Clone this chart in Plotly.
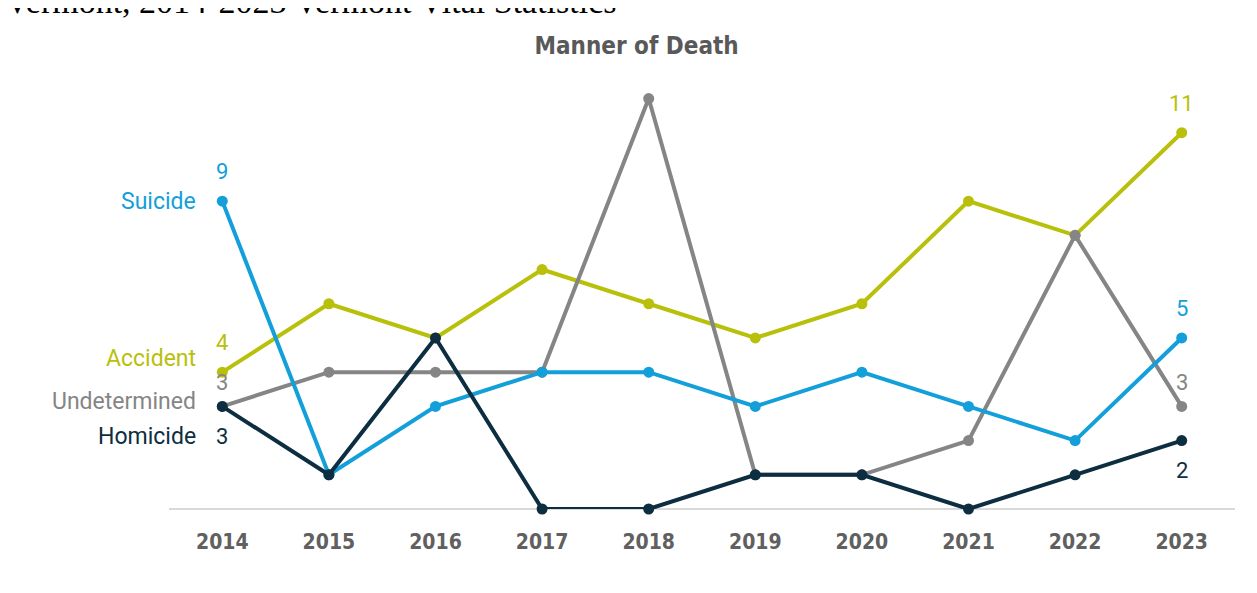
import plotly.graph_objects as go

years = [2014, 2015, 2016, 2017, 2018, 2019, 2020, 2021, 2022, 2023]
suicide = [9, 1, 3, 4, 4, 3, 4, 3, 2, 5]
accident = [4, 6, 5, 7, 6, 5, 6, 9, 8, 11]
undetermined = [3, 4, 4, 4, 12, 1, 1, 2, 8, 3]
homicide = [3, 1, 5, 0, 0, 1, 1, 0, 1, 2]

series = [
    ("Accident", accident, "#B9C00B"),
    ("Undetermined", undetermined, "#858585"),
    ("Suicide", suicide, "#129FDA"),
    ("Homicide", homicide, "#0D2E40"),
]

fig = go.Figure()
for name, vals, col in series:
    fig.add_trace(go.Scatter(
        x=years, y=vals, mode="lines+markers", name=name,
        line=dict(color=col, width=4),
        marker=dict(color=col, size=11),
        cliponaxis=False, showlegend=False,
    ))

colors = {n: c for n, _, c in series}
data = {n: v for n, v, _ in series}
lab_font = "Roboto, Arial, sans-serif"
narrow = "Liberation Sans Narrow, DejaVu Sans Condensed, Arial Narrow, sans-serif"
anns = []
name_shift = {"Suicide": 0, "Accident": 14, "Undetermined": 5, "Homicide": -30}
for n in ["Suicide", "Accident", "Undetermined", "Homicide"]:
    anns.append(dict(x=years[0], y=data[n][0], xref="x", yref="y", text=n,
                     showarrow=False, xanchor="right", xshift=-24, yshift=name_shift[n],
                     font=dict(family=lab_font, size=23, color=colors[n])))
start_shift = {"Suicide": 30, "Accident": 30, "Undetermined": 24, "Homicide": -30}
for n in ["Suicide", "Accident", "Undetermined", "Homicide"]:
    anns.append(dict(x=years[0], y=data[n][0], xref="x", yref="y", text=str(data[n][0]),
                     showarrow=False, yshift=start_shift[n],
                     font=dict(family=lab_font, size=22, color=colors[n])))
end_shift = {"Suicide": 29, "Accident": 29, "Undetermined": 24, "Homicide": -30}
for n in ["Suicide", "Accident", "Undetermined", "Homicide"]:
    anns.append(dict(x=years[-1], y=data[n][-1], xref="x", yref="y", text=str(data[n][-1]),
                     showarrow=False, yshift=end_shift[n],
                     font=dict(family=lab_font, size=22, color=colors[n])))
anns.append(dict(x=0, y=1, xref="paper", yref="paper", xanchor="left", yanchor="bottom",
                 xshift=-166, yshift=56,
                 text="Vermont, 2014-2023 Vermont Vital Statistics", showarrow=False,
                 font=dict(family="Liberation Serif, Times New Roman, serif", size=34, color="#000000")))

fig.update_layout(
    width=1246, height=577,
    paper_bgcolor="white", plot_bgcolor="white",
    margin=dict(l=161, r=19, t=70, b=76),
    title=dict(text="<b>Manner of Death</b>", x=0.5045, xanchor="center", y=0.935, yanchor="middle",
               font=dict(family=narrow, size=24, color="#595959")),
    xaxis=dict(range=[2013.5, 2023.5], tickmode="array", tickvals=years,
               ticktext=[f"<b>{y}</b>" for y in years],
               showgrid=False, zeroline=False, showline=False, ticks="",
               tickfont=dict(family=narrow, size=21, color="#606060")),
    yaxis=dict(range=[0, 12.6], showgrid=False, zeroline=True, zerolinecolor="#D9D9D9",
               zerolinewidth=2, showticklabels=False, showline=False),
    annotations=anns,
)
fig.update_xaxes(ticklabelstandoff=18)
fig.write_html("out.html")
